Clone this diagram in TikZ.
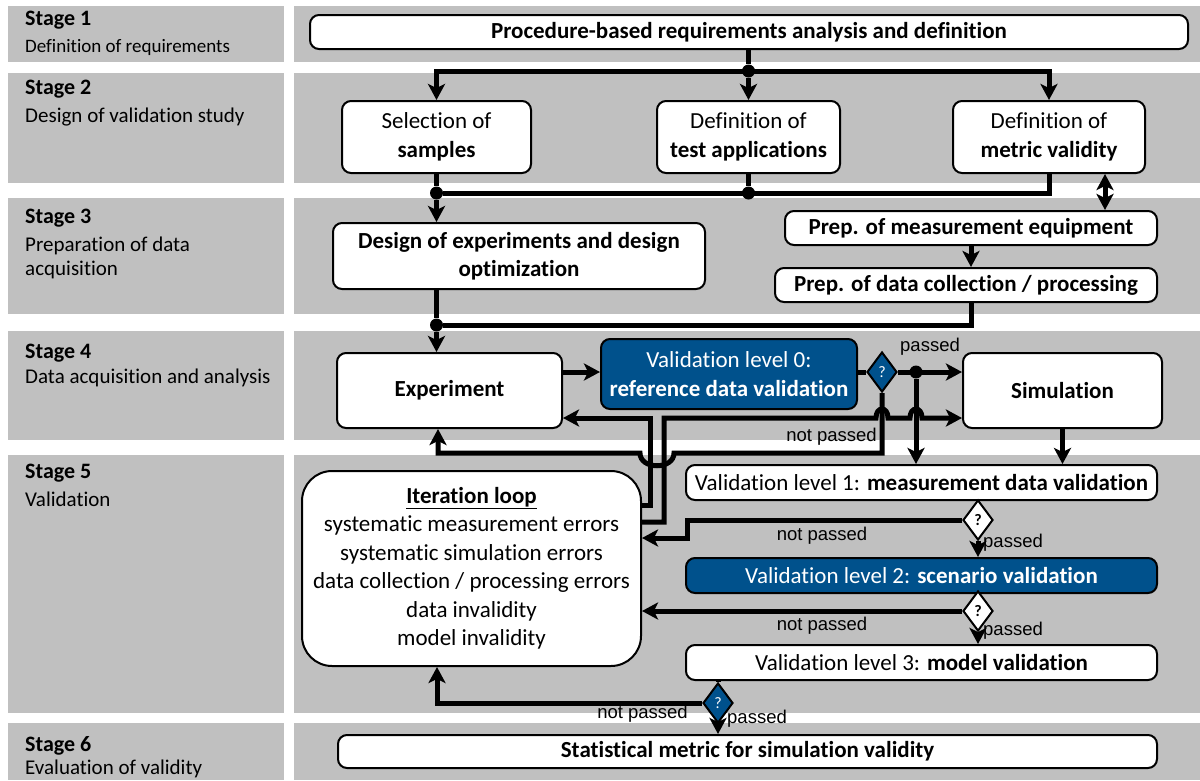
\documentclass[tikz,border=0pt]{standalone}
\usepackage{fontspec}
\setmainfont{Carlito}[Ligatures=NoCommon]
\newfontfamily\lblfont{Liberation Sans}
\usetikzlibrary{arrows.meta,shapes.geometric}
\definecolor{bandgrey}{RGB}{192,192,192}
\definecolor{valblue}{RGB}{0,81,140}
\tikzset{
  flowtip/.tip={Stealth[length=16pt,width=17pt,inset=4pt]},
  box/.style={draw,line width=2pt,rounded corners=9pt,fill=white,align=center,inner sep=0pt,font=\fontsize{23}{28.5}\selectfont},
  bluebox/.style={box,fill=valblue,text=white},
  flow/.style={line width=5pt},
  arr/.style={flow,-flowtip},
  dblarr/.style={flow,flowtip-flowtip},
  query/.style={diamond,draw,line width=2pt,fill=white,inner sep=0pt,minimum width=30pt,minimum height=40pt,font=\fontsize{16}{16}\selectfont\bfseries},
  bluequery/.style={query,fill=valblue,text=white,font=\fontsize{16}{16}\selectfont},
  jdot/.style={circle,fill=black,inner sep=0pt,minimum size=13pt},
  stagehead/.style={anchor=west,inner sep=0pt,font=\fontsize{22}{24}\selectfont\bfseries},
  stagetext/.style={anchor=west,inner sep=0pt,align=left,font=\fontsize{21}{24}\selectfont},
  lbl/.style={inner sep=0pt,font=\lblfont\fontsize{18.5}{18.5}\selectfont}
}
\begin{document}
\begin{tikzpicture}[x=1pt,y=-1pt]
\useasboundingbox (0,0) rectangle (1200,780);
% stage bands
\foreach \ya/\yb in {6/62,73/183,198/314,331/440,455/713,723/780}{
  \fill[bandgrey] (8,\ya) rectangle (284,\yb);
  \fill[bandgrey] (294,\ya) rectangle (1200,\yb);
}
% stage names
\node[stagehead] (s1) at (25,20) {Stage 1};
\node[stagetext,font=\fontsize{19}{24}\selectfont] (s1t) at (25,47) {Definition of requirements};
\node[stagehead] (s2) at (25,89) {Stage 2};
\node[stagetext] (s2t) at (25,117) {Design of validation study};
\node[stagehead] (s3) at (25,218) {Stage 3};
\node[stagetext] (s3t) at (25,258) {Preparation of data\\acquisition};
\node[stagehead] (s4) at (25,353) {Stage 4};
\node[stagetext] (s4t) at (25,378) {Data acquisition and analysis};
\node[stagehead] (s5) at (25,473) {Stage 5};
\node[stagetext] (s5t) at (25,499) {Validation};
\node[stagehead] (s6) at (25,746) {Stage 6};
\node[stagetext] (s6t) at (25,769) {Evaluation of validity};

% boxes
\node[box,minimum width=878pt,minimum height=34pt] (req) at (749,32) {\textbf{Procedure-based requirements analysis and definition}};
\node[box,minimum width=189pt,minimum height=72pt] (sel) at (436.5,137) {Selection of\\\textbf{samples}};
\node[box,minimum width=183pt,minimum height=72pt] (deft) at (748.5,137) {Definition of\\\textbf{test applications}};
\node[box,minimum width=192pt,minimum height=72pt] (defm) at (1049,137) {Definition of\\\textbf{metric validity}};
\node[box,minimum width=372pt,minimum height=66pt,font=\fontsize{23}{28.5}\selectfont\bfseries] (doe) at (519,256) {Design of experiments and design\\optimization};
\node[box,minimum width=372pt,minimum height=34pt] (pme) at (971,228) {\textbf{Prep. of measurement equipment}};
\node[box,minimum width=382pt,minimum height=34pt] (pdc) at (966,285) {\textbf{Prep. of data collection / processing}};
\node[box,minimum width=225pt,minimum height=75pt] (exp) at (449.5,390.5) {\textbf{Experiment}};
\node[bluebox,minimum width=256pt,minimum height=70pt] (v0) at (729,374) {Validation level 0:\\\textbf{reference data validation}};
\node[box,minimum width=199pt,minimum height=75pt] (sim) at (1062.5,390.5) {\textbf{Simulation}};
\node[box,rounded corners=30pt,minimum width=339pt,minimum height=195pt] (loop) at (471.5,568.5) {\underline{\textbf{Iteration loop}}\\systematic measurement errors\\systematic simulation errors\\data collection / processing errors\\data invalidity\\model invalidity};
\node[box,minimum width=471pt,minimum height=35pt] (v1) at (921.5,482.5) {Validation level 1: \textbf{measurement data validation}};
\node[bluebox,minimum width=471pt,minimum height=35pt] (v2) at (921.5,575.5) {Validation level 2: \textbf{scenario validation}};
\node[box,minimum width=471pt,minimum height=35pt] (v3) at (921.5,662.5) {Validation level 3: \textbf{model validation}};
\node[box,minimum width=819pt,minimum height=33pt] (stat) at (747.5,751.5) {\textbf{Statistical metric for simulation validity}};

% decisions
\node[bluequery] (q0) at (882,372) {?};
\node[query] (q1) at (978,520) {?};
\node[query] (q2) at (978,611) {?};
\node[bluequery] (q3) at (718,703) {?};

% stage 1 to 2
\node[jdot] (j1) at (748.5,71) {};
\draw[flow] (req.south -| j1) -- (j1);
\draw[dblarr] (sel.north) -- (sel.north |- j1) -- (defm.north |- j1) -- (defm.north);
\draw[arr] (j1) -- (deft.north);
% stage 2 to 3
\node[jdot] (j2) at (436.5,193) {};
\node[jdot] (j3) at (748.5,193) {};
\draw[flow] (sel.south) -- (j2) -- (j2 -| defm.south) -- (defm.south);
\draw[flow] (deft.south) -- (j3);
\draw[arr] (j2) -- (doe.north -| j2);
\coordinate (dbl) at (1105,0);
\draw[dblarr] (defm.south -| dbl) -- (pme.north -| dbl);
\draw[arr] (pme.south) -- (pme.south |- pdc.north);
% stage 3 to 4
\node[jdot] (j4) at (436.5,325) {};
\draw[flow] (doe.south -| j4) -- (j4) -- (j4 -| pme.south) -- (pdc.south -| pme.south);
\draw[arr] (j4) -- (j4 |- exp.north);

% stage 4
\draw[arr] (exp.east |- q0) -- (v0.west |- q0);
\draw[flow] (v0.east |- q0) -- (q0.west);
\node[jdot] (j5) at (916,372) {};
\draw[arr] (q0.east) -- (sim.west |- q0);
\draw[arr] (j5) -- (j5 |- v1.north);
\draw[arr] (sim.south) -- (sim.south |- v1.north);
\node[lbl] (l0p) at (930,347) {passed};
\node[lbl,anchor=east] (l0n) at (877,437) {not passed};
% back to experiment and simulation
\coordinate (la) at (650,505);
\coordinate (lb) at (664,522);
\coordinate (lc) at (438,453);
\draw[arr] (loop.east |- la) -- (la) -- (la |- 0,418) -- (exp.east |- 0,418);
\draw[arr] (loop.east |- lb) -- (lb) -- (lb |- 0,418) -- (876,418)
  .. controls (876,406) and (888,406) .. (888,418) -- (910,418)
  .. controls (910,406) and (922,406) .. (922,418) -- (sim.west |- 0,418);
\draw[arr] (q0.south) -- (q0.south |- lc) -- (674,453)
  .. controls (674,470) and (640,470) .. (640,453) -- (lc) -- (lc |- exp.south);

% stage 5
\coordinate (ld) at (687,538);
\draw[arr] (q1.west) -- (ld |- q1) -- (ld) -- (loop.east |- ld);
\draw[arr] (q1.south) -- (q1.south |- v2.north);
\draw[arr] (q2.west) -- (loop.east |- q2);
\draw[arr] (q2.south) -- (q2.south |- v3.north);
\coordinate (le) at (437,703);
\draw[flow] (v3.south -| q3) -- (q3.north);
\draw[arr] (q3.west) -- (le) -- (le |- loop.south);
\draw[arr] (q3.south) -- (q3.south |- stat.north);
\node[lbl] (l1n) at (822,536) {not passed};
\node[lbl,anchor=west] (l1p) at (983,543) {passed};
\node[lbl] (l2n) at (822,626) {not passed};
\node[lbl,anchor=west] (l2p) at (983,631) {passed};
\node[lbl,anchor=east] (l3n) at (688,714) {not passed};
\node[lbl,anchor=west] (l3p) at (727,719) {passed};
\end{tikzpicture}
\end{document}
